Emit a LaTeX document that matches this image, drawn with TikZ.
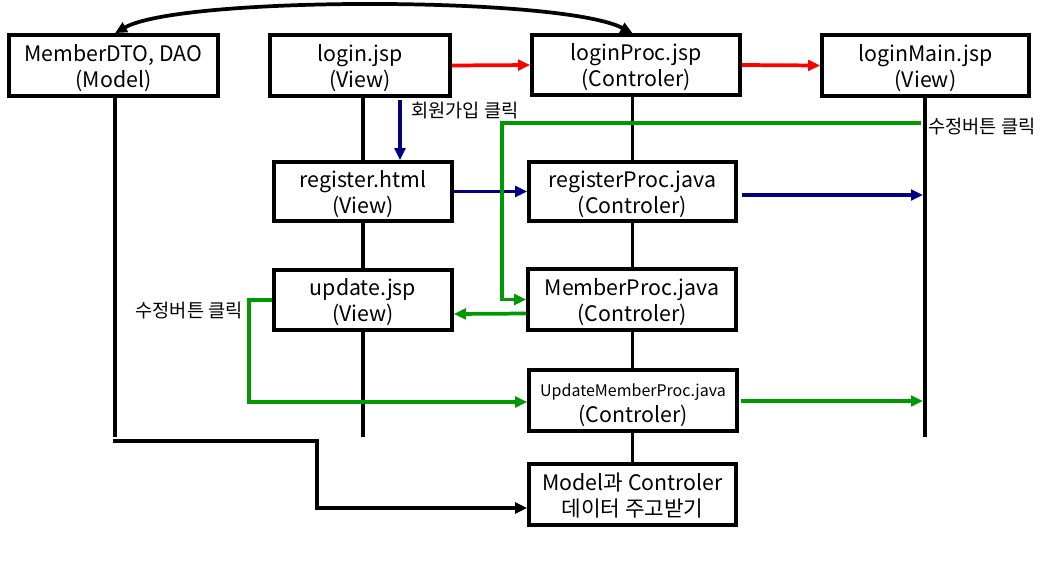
\documentclass[tikz,border=0pt]{standalone}
\usepackage{fontspec}
\setmainfont{Noto Sans CJK KR}
\usetikzlibrary{arrows.meta}
\usetikzlibrary{backgrounds}
\definecolor{callred}{RGB}{255,0,0}
\definecolor{callnavy}{RGB}{0,0,128}
\definecolor{callgreen}{RGB}{0,153,0}

\begin{document}
\begin{tikzpicture}[x=0.75pt,y=-0.75pt,
  box/.style={draw,line width=2.8pt,fill=white,align=center,inner sep=0pt,
    font=\fontsize{16}{19.5}\selectfont},
  life/.style={line width=2.8pt},
  flow/.style={line width=2.8pt,-{Triangle[length=9pt,width=8pt]}},
  note/.style={inner sep=0pt,font=\fontsize{14}{16}\selectfont}]
  \useasboundingbox (0,0) rectangle (1059,568);
  \newcommand\drawbox[6]{\node[box,minimum width={(#4-#2-4)*0.75pt},minimum height={(#5-#3-4)*0.75pt}] (#1) at ({(#2+#4)/2},{(#3+#5)/2}) {\raisebox{-2.5pt}[\height][\depth]{\begin{tabular}{@{}c@{}}#6\end{tabular}}};}

% top row
  \drawbox{dto}{7}{33}{220}{98}{MemberDTO, DAO\\(Model)}
  \drawbox{login}{268}{33}{452}{98}{login.jsp\\(View)}
  \drawbox{lproc}{530}{33}{742}{97}{loginProc.jsp\\(Controler)}
  \drawbox{lmain}{820}{33}{1031}{98}{loginMain.jsp\\(View)}

% views and controlers
  \drawbox{reg}{272}{160}{454}{223}{register.html\\(View)}
  \drawbox{rproc}{527}{160}{738}{223}{registerProc.java\\(Controler)}
  \drawbox{upd}{272}{268}{454}{332}{update.jsp\\(View)}
  \drawbox{mproc}{526}{267}{738}{332}{MemberProc.java\\(Controler)}
  \drawbox{umproc}{527}{368}{739}{433}{{\fontsize{12}{15}\selectfont UpdateMemberProc.java}\\(Controler)}
  \drawbox{mc}{527}{462}{738}{527}{Model과 Controler\\데이터 주고받기}

% lifelines
  \coordinate (dtoend) at (115,437);
  \coordinate (loginend) at (363,437);
  \coordinate (lmainend) at (925,437);
  \begin{scope}[on background layer]
    \draw[life] (dto.south -| dtoend) -- (dtoend);
    \draw[life] (login.south -| loginend) -- (loginend);
    \draw[life] (lproc.south -| mc.north) -- (mc.north);
    \draw[life] (lmain.south -| lmainend) -- (lmainend);
  \end{scope}

% login
  \draw[flow,callred] (login.east) -- (lproc.west);
  \draw[flow,callred] (lproc.east) -- (lmain.west);
  \draw[line width=2.8pt,{Triangle[length=9pt,width=8pt]}-{Triangle[length=9pt,width=8pt]}]
    (dto.north -| dtoend) .. controls (180,-4) and (560,-4) .. (lproc.north -| mc.north);

% register
  \coordinate (joincol) at (400,0);
  \coordinate (lmainreg) at (923,195);
  \draw[flow,callnavy] ([yshift=-1.5pt]login.south -| joincol) -- (reg.north -| joincol);
  \node[note,anchor=west] (joinnote) at (411,111) {회원가입 클릭};
  \draw[flow,callnavy] (reg.east) -- (rproc.west);
  \draw[flow,callnavy,shorten <=3pt] (rproc.east |- lmainreg) -- (lmainreg);

% update
  \coordinate (edittop) at (921,123);
  \coordinate (editcol) at (502,123);
  \coordinate (updturn) at (249,402);
  \coordinate (lmainupd) at (923,401);
  \node[note,anchor=west] (editnote) at (928,127) {수정버튼 클릭};
  \node[note,anchor=east] (updnote) at (243,311) {수정버튼 클릭};
  \draw[flow,callgreen] (edittop) -- (editcol) |- (mproc.west);
  \draw[flow,callgreen] ([yshift=-10.5pt]mproc.west) -- ([yshift=-10.5pt]upd.east);
  \draw[flow,callgreen] (upd.west) -| (updturn) -- (updturn -| umproc.west);
  \draw[flow,callgreen,shorten <=1.5pt] (umproc.east |- lmainupd) -- (lmainupd);

% model data
  \coordinate (dtobus) at (113,441);
  \coordinate (dtoturn) at (317,508);
  \draw[flow] (dtobus) -| (dtoturn) -- (dtoturn -| mc.west);

\end{tikzpicture}
\end{document}
